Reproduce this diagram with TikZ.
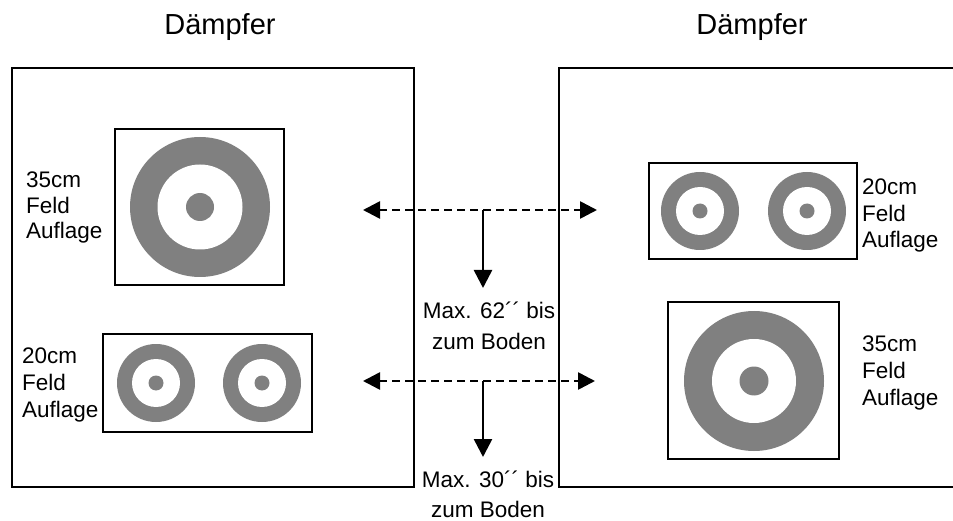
\documentclass[tikz,border=0pt]{standalone}
\usepackage{fontspec}
\setmainfont{Liberation Sans}
\usetikzlibrary{arrows.meta}
\definecolor{ringgray}{RGB}{128,128,128}

\begin{document}
\begin{tikzpicture}[x=1pt,y=-1pt,
    frame/.style={draw,line width=1.5pt},
    sizetext/.style={align=left,anchor=base west,inner sep=0pt,font=\fontsize{22.5}{#1}\selectfont},
    sizetext/.default=27,
    heighttext/.style={align=center,anchor=base,inner sep=0pt,font=\fontsize{22.5}{#1}\selectfont},
    gap/.style={line width=2.6pt,dash pattern=on 8pt off 5pt,{Triangle[length=17pt,width=17pt]}-{Triangle[length=17pt,width=17pt]}},
    drop/.style={line width=2.6pt,-{Triangle[length=18pt,width=18pt]}}]
        \useasboundingbox[fill=white] (0,0) rectangle (953,521);
        % the two walls
        \node[anchor=base,font=\fontsize{29}{35}\selectfont] (head1) at (220,35) {Dämpfer};
        \node[anchor=base,font=\fontsize{29}{35}\selectfont] (head2) at (752,35) {Dämpfer};
        \draw[frame] (12,68) rectangle (414,487);
        \draw[frame] (953,68) -- (559,68) -- (559,487) -- (953,487);
        % target boxes
        \draw[frame] (115,129) rectangle (284,285);
        \draw[frame] (103,334) rectangle (312,432);
        \draw[frame] (649,163) rectangle (857,259);
        \draw[frame] (668,302) rectangle (839,459);
        \foreach \cx/\cy/\R/\r/\d in {200/207/70/42.5/14, 754/381/70/42/14.5,
                                     156/383/39/24/7.5, 262/383/39/24/7.5,
                                     700/211/39/24/7.5, 807/211/39/24/7.5}{
          \fill[ringgray] (\cx,\cy) circle (\R pt);
          \fill[white] (\cx,\cy) circle (\r pt);
          \fill[ringgray] (\cx,\cy) circle (\d pt);
        }
        % base is the last line
        \node[sizetext=25.5] (big1) at (26,239) {35cm\\Feld\\Auflage};
        \node[sizetext] (small1) at (22,417) {20cm\\Feld\\Auflage};
        \node[sizetext=26.5] (small2) at (862,248) {20cm\\Feld\\Auflage};
        \node[sizetext] (big2) at (862,405) {35cm\\Feld\\Auflage};
        % distances
        \coordinate (a1) at (363,210);
        \coordinate (a2) at (597,210);
        \coordinate (a3) at (483,210);
        \coordinate (a4) at (483,288);
        \coordinate (b1) at (363,381);
        \coordinate (b2) at (595,381);
        \coordinate (b3) at (483,381);
        \coordinate (b4) at (483,457);
        \draw[gap] (a1) -- (a2);
        \draw[drop] (a3) -- (a4);
        \draw[gap] (b1) -- (b2);
        \draw[drop] (b3) -- (b4);
        \node[heighttext=31] (max1) at (489,349) {Max. 62´´ bis\\zum Boden};
        \node[heighttext=30] (max2) at (488,517) {Max. 30´´ bis\\zum Boden};
      \end{tikzpicture}
\end{document}
